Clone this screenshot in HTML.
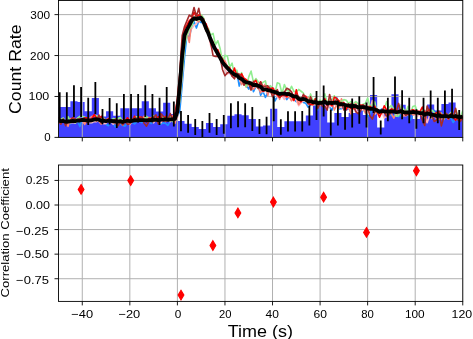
<!DOCTYPE html>
<html><head><meta charset="utf-8"><title>Light curve and correlation</title>
<style>html,body{margin:0;padding:0;background:#fff;}svg{display:block;}</style></head>
<body>
<svg width="473" height="339" viewBox="0 0 473 339">
<defs><clipPath id="c1"><rect x="58.5" y="0.45" width="404.3" height="136.95"/></clipPath>
<clipPath id="c2"><rect x="58.5" y="165" width="404.3" height="136.4"/></clipPath></defs>
<rect width="473" height="339" fill="#fff"/>
<g clip-path="url(#c1)">
<path d="M58.5 137.4L58.5 106.9L63.25 106.9L63.25 106.9L70.39 106.9L70.39 101.2L77.52 101.2L77.52 102L84.66 102L84.66 111.3L91.79 111.3L91.79 98L98.92 98L98.92 116.6L106.06 116.6L106.06 111.3L113.19 111.3L113.19 115.7L120.33 115.7L120.33 108.3L127.46 108.3L127.46 108.3L134.59 108.3L134.59 108.3L141.73 108.3L141.73 101.2L148.86 101.2L148.86 108.3L156 108.3L156 111.4L163.13 111.4L163.13 102.7L170.26 102.7L170.26 114L177.4 114L177.4 121.1L184.53 121.1L184.53 123.8L191.67 123.8L191.67 126.9L198.8 126.9L198.8 128.9L205.93 128.9L205.93 122.9L213.07 122.9L213.07 126.9L220.2 126.9L220.2 124.3L227.34 124.3L227.34 115.8L234.47 115.8L234.47 114.2L241.6 114.2L241.6 115.2L248.74 115.2L248.74 119L255.87 119L255.87 126.5L263.01 126.5L263.01 125.5L270.14 125.5L270.14 108.7L277.27 108.7L277.27 127L284.41 127L284.41 121.3L291.54 121.3L291.54 121.3L298.68 121.3L298.68 121.3L305.81 121.3L305.81 115.5L312.94 115.5L312.94 105.5L320.08 105.5L320.08 101L327.21 101L327.21 122.5L334.35 122.5L334.35 113L341.48 113L341.48 117L348.61 117L348.61 113L355.75 113L355.75 110L362.88 110L362.88 115L370.02 115L370.02 95L377.15 95L377.15 127.5L384.28 127.5L384.28 109.5L391.42 109.5L391.42 94.2L398.55 94.2L398.55 104.7L405.69 104.7L405.69 110.5L412.82 110.5L412.82 119L419.95 119L419.95 110.5L427.09 110.5L427.09 104.5L434.22 104.5L434.22 110.5L441.36 110.5L441.36 104L448.49 104L448.49 102.5L455.62 102.5L455.62 120L462.76 120L462.8 137.4Z" fill="#4040ff"/>
<path d="M82.28 0.45V137.4M129.84 0.45V137.4M177.4 0.45V137.4M224.96 0.45V137.4M272.52 0.45V137.4M320.08 0.45V137.4M367.64 0.45V137.4M415.2 0.45V137.4M462.76 0.45V137.4M58.5 96.47H462.8M58.5 55.54H462.8M58.5 14.61H462.8" stroke="#b0b0b0" stroke-width="1" fill="none"/>
<polyline points="58.5,122.12 60.88,119.33 63.26,119.83 65.63,123.88 68.01,123.43 70.39,123.95 72.77,121.48 75.15,122.86 77.52,120.9 79.9,126.55 82.28,118.57 84.66,121.99 87.04,120.16 89.41,122.11 91.79,122.78 94.17,120.81 96.55,119.61 98.93,121.66 101.3,121.85 103.68,120.57 106.06,124.27 108.44,125.72 110.82,121.43 113.19,123.88 115.57,126.92 117.95,124.59 120.33,123.81 122.71,125.45 125.08,126.11 127.46,122.46 129.84,120.25 132.22,122.73 134.6,123.88 136.97,121.34 139.35,120.57 141.73,122.76 144.11,120.74 146.49,119.5 148.86,122.17 151.24,123.48 153.62,120.86 156,121.09 158.38,119.17 160.75,124.43 163.13,122.9 165.51,123.27 167.89,125.29 170.27,121.1 172.64,120.15 175.02,122.8 177.4,116.47 179.78,111.07 182.16,84.86 184.53,57.17 186.91,35.31 189.29,36.9 191.67,26.75 194.05,21.52 196.42,28.07 198.8,20.94 201.18,22.69 203.56,19.64 205.94,28.81 208.31,33.37 210.69,37.92 213.07,48.2 215.45,48.7 217.83,55.79 220.2,58.12 222.58,66.02 224.96,63.16 227.34,67.92 229.72,73.41 232.09,72.63 234.47,72.4 236.85,72.44 239.23,86.12 241.61,78.75 243.98,81.74 246.36,85.11 248.74,89.2 251.12,81.92 253.5,91.78 255.87,86.32 258.25,84.61 260.63,95.37 263.01,91.42 265.39,97.49 267.76,92.43 270.14,88.24 272.52,87.71 274.9,101.05 277.28,96.63 279.65,93.72 282.03,91.52 284.41,95.51 286.79,99.58 289.17,96.24 291.54,97.76 293.92,99.07 296.3,101.69 298.68,98.96 301.06,100.49 303.43,102.5 305.81,103.34 308.19,107.23 310.57,105.17 312.95,100.26 315.32,105.48 317.7,109.94 320.08,101.01 322.46,103.72 324.84,98.6 327.21,105.25 329.59,106.97 331.97,110.22 334.35,101.42 336.73,97.73 339.1,108.92 341.48,108.8 343.86,105.2 346.24,109.99 348.62,108.48 350.99,108.98 353.37,107.55 355.75,105.01 358.13,108.67 360.51,106.26 362.88,110.8 365.26,108.8 367.64,116.64 370.02,114.85 372.4,108.37 374.77,113.03 377.15,109.94 379.53,110.56 381.91,108.83 384.29,110.92 386.66,110.52 389.04,114.06 391.42,115.82 393.8,115.84 396.18,115.02 398.55,116.91 400.93,115.24 403.31,114.01 405.69,113.11 408.07,115.03 410.44,119.88 412.82,114.49 415.2,113.75 417.58,111.4 419.96,113.15 422.33,117.01 424.71,117.51 427.09,109.76 429.47,113.77 431.85,110.96 434.22,110.42 436.6,119.37 438.98,116.14 441.36,116.19 443.74,116.12 446.11,116.33 448.49,117.44 450.87,117.62 453.25,122.53 455.63,118.73 458,120.43 460.38,117.94 462.76,119.66" stroke="#1e90ff" stroke-width="1.6" fill="none" stroke-linejoin="round"/>
<polyline points="58.5,120.37 60.88,120.18 63.26,121.4 65.63,121.48 68.01,121.93 70.39,123.03 72.77,122.45 75.15,123.02 77.52,121.04 79.9,121.57 82.28,120.06 84.66,123.69 87.04,119.25 89.41,122.74 91.79,122.75 94.17,121.38 96.55,121.73 98.93,119.97 101.3,122.3 103.68,123.8 106.06,123.37 108.44,118.99 110.82,121.56 113.19,124.19 115.57,122.04 117.95,125.27 120.33,118.49 122.71,125.21 125.08,121.06 127.46,120.63 129.84,124.48 132.22,120.93 134.6,119.52 136.97,120.59 139.35,120.94 141.73,119.42 144.11,120.9 146.49,120.4 148.86,121.23 151.24,119.67 153.62,122.86 156,119.35 158.38,121.93 160.75,122.98 163.13,119.94 165.51,117.25 167.89,118.73 170.27,121.72 172.64,119.13 175.02,121.16 177.4,117.67 179.78,99.94 182.16,76.87 184.53,43.52 186.91,36.34 189.29,31.73 191.67,28.67 194.05,25.58 196.42,23.79 198.8,18.33 201.18,15.09 203.56,22.32 205.94,24.36 208.31,34.67 210.69,45.67 213.07,44.63 215.45,49.04 217.83,56.42 220.2,58.78 222.58,61.5 224.96,69.18 227.34,74.22 229.72,72.55 232.09,74.62 234.47,77.15 236.85,74.67 239.23,73.83 241.61,82.2 243.98,80.19 246.36,80.55 248.74,82.04 251.12,81.85 253.5,87.46 255.87,84.87 258.25,81.55 260.63,85.92 263.01,91.98 265.39,89.92 267.76,87.92 270.14,91.58 272.52,95.35 274.9,88.56 277.28,97.48 279.65,94.12 282.03,95.77 284.41,99.44 286.79,92.2 289.17,95.21 291.54,100.48 293.92,95.86 296.3,99.97 298.68,105.75 301.06,103.04 303.43,100.72 305.81,99.99 308.19,101.87 310.57,102.99 312.95,102.39 315.32,104.96 317.7,101.1 320.08,104.3 322.46,103.9 324.84,103.18 327.21,107.85 329.59,106.88 331.97,100.48 334.35,104.15 336.73,106.26 339.1,104.86 341.48,107.65 343.86,105.79 346.24,108.74 348.62,106.33 350.99,111.84 353.37,103.91 355.75,109.39 358.13,112.72 360.51,109.32 362.88,110.09 365.26,108.92 367.64,112.81 370.02,108.92 372.4,100.46 374.77,114.41 377.15,110.48 379.53,112.83 381.91,112.11 384.29,117.93 386.66,116.3 389.04,111.97 391.42,113.27 393.8,108.64 396.18,114.91 398.55,112.56 400.93,105.29 403.31,115.34 405.69,115.86 408.07,113.68 410.44,113.83 412.82,111.58 415.2,113.67 417.58,116.26 419.96,113.93 422.33,107.75 424.71,111.68 427.09,122.73 429.47,116.07 431.85,118.34 434.22,114.73 436.6,117.14 438.98,111.89 441.36,114.77 443.74,115.08 446.11,117.06 448.49,117.76 450.87,116.85 453.25,114.44 455.63,116.47 458,118.79 460.38,114.6 462.76,117.41" stroke="#ffb6c1" stroke-width="1.6" fill="none" stroke-linejoin="round"/>
<polyline points="58.5,120.31 60.88,121.99 63.26,121.73 65.63,121.96 68.01,126.33 70.39,118.61 72.77,119.52 75.15,120.98 77.52,118.21 79.9,119.18 82.28,118.92 84.66,124.45 87.04,119.99 89.41,118.59 91.79,116.46 94.17,115.65 96.55,116.07 98.93,121.36 101.3,124.12 103.68,119 106.06,120.1 108.44,118.21 110.82,120.42 113.19,119.93 115.57,123.66 117.95,119.76 120.33,121.57 122.71,119.96 125.08,119.61 127.46,120.46 129.84,119.39 132.22,120.06 134.6,118.49 136.97,119.01 139.35,121.06 141.73,121 144.11,116.15 146.49,119.73 148.86,117.4 151.24,118.6 153.62,120.54 156,120.91 158.38,119.09 160.75,118.66 163.13,117.85 165.51,121.66 167.89,120.3 170.27,119.27 172.64,115.68 175.02,123.3 177.4,114.61 179.78,96.99 182.16,66.69 184.53,42.48 186.91,31.95 189.29,42.41 191.67,22.51 194.05,18.65 196.42,18.66 198.8,21.95 201.18,17.4 203.56,22.02 205.94,29.73 208.31,32.85 210.69,38.95 213.07,41.44 215.45,49.3 217.83,55.51 220.2,53.83 222.58,58.9 224.96,61.06 227.34,66.3 229.72,71.04 232.09,74.19 234.47,75.83 236.85,73.73 239.23,77.97 241.61,84.62 243.98,81.55 246.36,87.06 248.74,82.77 251.12,88.05 253.5,89.29 255.87,85.89 258.25,87.24 260.63,92.76 263.01,87 265.39,84.08 267.76,95.6 270.14,86.24 272.52,94.82 274.9,93.97 277.28,93.44 279.65,99.3 282.03,90.83 284.41,93.38 286.79,97.41 289.17,96.31 291.54,100.77 293.92,98 296.3,95.11 298.68,104.53 301.06,101.57 303.43,100.36 305.81,98.03 308.19,97.65 310.57,103.83 312.95,105.34 315.32,102.33 317.7,104.97 320.08,104.96 322.46,100.89 324.84,99.12 327.21,103.29 329.59,104.69 331.97,102.57 334.35,109.92 336.73,104.85 339.1,108.26 341.48,98.8 343.86,103.9 346.24,105.83 348.62,107.05 350.99,113.88 353.37,105.04 355.75,102.78 358.13,109.75 360.51,106.22 362.88,106.48 365.26,113.06 367.64,106.5 370.02,105.74 372.4,109.28 374.77,110.56 377.15,108.74 379.53,115.73 381.91,111.91 384.29,109.6 386.66,116.05 389.04,110.01 391.42,113.78 393.8,118.19 396.18,112.76 398.55,115.15 400.93,111.79 403.31,115.94 405.69,110.11 408.07,115.07 410.44,112.27 412.82,114.94 415.2,114.4 417.58,110.6 419.96,113.46 422.33,115.36 424.71,117.92 427.09,111.85 429.47,113.33 431.85,116.47 434.22,115.31 436.6,118.98 438.98,119.22 441.36,118.97 443.74,116.07 446.11,116.37 448.49,119.19 450.87,115.41 453.25,115.36 455.63,116.99 458,114.78 460.38,118.22 462.76,117.79" stroke="#fa8072" stroke-width="1.6" fill="none" stroke-linejoin="round"/>
<polyline points="58.5,118.23 60.88,119.62 63.26,117.97 65.63,122.68 68.01,116.66 70.39,121.63 72.77,120.24 75.15,122.86 77.52,118.18 79.9,116.4 82.28,116.45 84.66,116.71 87.04,122.14 89.41,120.57 91.79,119.92 94.17,120.67 96.55,115.58 98.93,117.66 101.3,118.79 103.68,118.21 106.06,121.47 108.44,121.38 110.82,121.32 113.19,118.41 115.57,119.03 117.95,118.57 120.33,117.44 122.71,122.92 125.08,121.02 127.46,119.09 129.84,122.24 132.22,120.4 134.6,116.91 136.97,116.71 139.35,116.7 141.73,118.88 144.11,119.32 146.49,116.25 148.86,119.39 151.24,117.77 153.62,115.55 156,119.36 158.38,119.85 160.75,118.34 163.13,116.87 165.51,117.13 167.89,117.87 170.27,116.96 172.64,121.66 175.02,119.64 177.4,115 179.78,100.47 182.16,74.18 184.53,46.52 186.91,35.26 189.29,29.26 191.67,26.57 194.05,19.23 196.42,14.15 198.8,20.18 201.18,14.68 203.56,18.05 205.94,27.23 208.31,28.33 210.69,35.18 213.07,33.37 215.45,44.76 217.83,40.75 220.2,48.77 222.58,62.23 224.96,55.38 227.34,56.01 229.72,67.17 232.09,63.12 234.47,75.44 236.85,70.13 239.23,78.69 241.61,72.66 243.98,82.51 246.36,86.77 248.74,76.84 251.12,71.1 253.5,82.46 255.87,78.54 258.25,81.92 260.63,83.99 263.01,82.43 265.39,80.87 267.76,90.99 270.14,85.66 272.52,87.36 274.9,93.15 277.28,82.74 279.65,83.84 282.03,93.76 284.41,84.46 286.79,90.32 289.17,91.33 291.54,86.28 293.92,91.39 296.3,92.07 298.68,89.46 301.06,91.26 303.43,93.13 305.81,101.12 308.19,102.12 310.57,93.94 312.95,101.42 315.32,98.41 317.7,102.62 320.08,99.78 322.46,103.38 324.84,93.9 327.21,102.51 329.59,99.66 331.97,99.99 334.35,95.75 336.73,104.56 339.1,100.58 341.48,101.64 343.86,99.65 346.24,100.16 348.62,103.42 350.99,101.51 353.37,103.77 355.75,101.48 358.13,103.66 360.51,105.85 362.88,104.32 365.26,103.45 367.64,97.96 370.02,106.86 372.4,104.91 374.77,101.92 377.15,113.32 379.53,112.96 381.91,112.03 384.29,109.17 386.66,101.65 389.04,107.93 391.42,105.39 393.8,109.6 396.18,116.26 398.55,115.83 400.93,105.97 403.31,108.62 405.69,113.23 408.07,106.2 410.44,114.26 412.82,106.46 415.2,105.72 417.58,112.56 419.96,113.87 422.33,108.42 424.71,114.47 427.09,109.07 429.47,115.51 431.85,110.03 434.22,112.51 436.6,114.43 438.98,116.1 441.36,113.08 443.74,119.5 446.11,114.97 448.49,115.45 450.87,112.43 453.25,118.09 455.63,109.59 458,115.45 460.38,117.84 462.76,110.62" stroke="#90ee90" stroke-width="1.6" fill="none" stroke-linejoin="round"/>
<polyline points="58.5,117.17 60.88,120.71 63.26,122.1 65.63,120.48 68.01,121.75 70.39,121.07 72.77,117.62 75.15,119.52 77.52,119.72 79.9,118.98 82.28,119.4 84.66,117.79 87.04,117.88 89.41,120.23 91.79,119.13 94.17,114.52 96.55,117.98 98.93,119.65 101.3,116.24 103.68,119.98 106.06,121.97 108.44,118.78 110.82,121.76 113.19,121.31 115.57,119.92 117.95,120.74 120.33,121.89 122.71,121.44 125.08,121.2 127.46,117.78 129.84,121.16 132.22,120.9 134.6,116.19 136.97,120.81 139.35,117 141.73,117.18 144.11,119.67 146.49,121.81 148.86,118.41 151.24,118.01 153.62,117.48 156,119.06 158.38,116.88 160.75,116.42 163.13,120.82 165.51,116.35 167.89,118.6 170.27,119.82 172.64,119.08 175.02,112.87 177.4,99.9 179.78,75.57 182.16,41.9 184.53,28.91 186.91,24.86 189.29,20.54 191.67,18.54 194.05,12.22 196.42,16.85 198.8,14.86 201.18,16.51 203.56,22.16 205.94,23.63 208.31,30.2 210.69,39.03 213.07,45.35 215.45,48.78 217.83,49.74 220.2,56.34 222.58,59.25 224.96,64.24 227.34,66.75 229.72,67.68 232.09,75.88 234.47,67.99 236.85,76.58 239.23,77.53 241.61,73.78 243.98,78.3 246.36,79.66 248.74,82.34 251.12,86.21 253.5,82.36 255.87,80.38 258.25,86.83 260.63,81.75 263.01,91.19 265.39,90.14 267.76,87.38 270.14,89.93 272.52,87.79 274.9,91.7 277.28,94.9 279.65,97.34 282.03,95.54 284.41,95.35 286.79,96.62 289.17,92.52 291.54,95.98 293.92,100.58 296.3,89.86 298.68,99.99 301.06,101.75 303.43,95.48 305.81,96.16 308.19,103.13 310.57,104.71 312.95,104.07 315.32,98.75 317.7,102.73 320.08,104.1 322.46,102.06 324.84,98.85 327.21,105.63 329.59,103.12 331.97,105.89 334.35,97.09 336.73,98.42 339.1,101.13 341.48,104.25 343.86,102.53 346.24,109.81 348.62,104.08 350.99,108.44 353.37,108.71 355.75,107.51 358.13,107.06 360.51,105.17 362.88,105.18 365.26,106.58 367.64,109.94 370.02,106.42 372.4,108.86 374.77,106.22 377.15,111.94 379.53,117.16 381.91,112.03 384.29,105.85 386.66,110.03 389.04,111.58 391.42,108.89 393.8,109.72 396.18,109.83 398.55,112.3 400.93,111.02 403.31,110.88 405.69,113.07 408.07,114.35 410.44,111.48 412.82,109.69 415.2,110.69 417.58,111.33 419.96,111.6 422.33,107 424.71,112.82 427.09,111.34 429.47,109.56 431.85,114.4 434.22,114.26 436.6,112.74 438.98,111.52 441.36,114.95 443.74,114.99 446.11,115.75 448.49,118.85 450.87,113.54 453.25,116.77 455.63,120.17 458,116.57 460.38,120.21 462.76,118.56" stroke="#ff0000" stroke-width="1.6" fill="none" stroke-linejoin="round"/>
<polyline points="58.5,121.45 60.88,124.17 63.26,118.89 65.63,125.75 68.01,121.07 70.39,120.27 72.77,117.73 75.15,118.99 77.52,120.62 79.9,120.66 82.28,120.79 84.66,117.6 87.04,122.6 89.41,119.49 91.79,120.86 94.17,119.55 96.55,120.89 98.93,115 101.3,123.05 103.68,120.61 106.06,120.55 108.44,119.65 110.82,120.25 113.19,120.56 115.57,119.11 117.95,125.83 120.33,121.74 122.71,125 125.08,120.74 127.46,124.37 129.84,123.76 132.22,121.33 134.6,117.4 136.97,119.54 139.35,120.17 141.73,117.06 144.11,123.26 146.49,126.24 148.86,121.72 151.24,121.32 153.62,117.23 156,114.75 158.38,123.98 160.75,113.6 163.13,116.07 165.51,118.03 167.89,119.29 170.27,113.6 172.64,119.62 175.02,118.44 177.4,98.68 179.78,72.45 182.16,35.76 184.53,26.52 186.91,20.91 189.29,15.08 191.67,16.8 194.05,7.5 196.42,16.53 198.8,8.29 201.18,20.22 203.56,18.63 205.94,30.59 208.31,33.19 210.69,42.82 213.07,55.66 215.45,56.41 217.83,56.17 220.2,57.49 222.58,69.74 224.96,75.76 227.34,72.82 229.72,72.14 232.09,76.12 234.47,78.81 236.85,73.24 239.23,74.29 241.61,76.89 243.98,85.27 246.36,81.72 248.74,83.78 251.12,90.1 253.5,81.31 255.87,85.47 258.25,88.41 260.63,82 263.01,86.66 265.39,86.33 267.76,85.78 270.14,88.69 272.52,96.71 274.9,93.22 277.28,89.58 279.65,96.92 282.03,93.59 284.41,92.25 286.79,88.28 289.17,89.5 291.54,91.92 293.92,97.32 296.3,94.21 298.68,96.77 301.06,100.1 303.43,94.36 305.81,98.29 308.19,104.05 310.57,96.67 312.95,103.26 315.32,100.13 317.7,108.61 320.08,102.71 322.46,106.34 324.84,106.43 327.21,110.12 329.59,94.48 331.97,103.59 334.35,102.45 336.73,99.53 339.1,104.71 341.48,102.61 343.86,110.04 346.24,104.4 348.62,106.99 350.99,103.83 353.37,105.36 355.75,111.59 358.13,113.75 360.51,110.99 362.88,104.79 365.26,106.27 367.64,106.75 370.02,116.11 372.4,119.05 374.77,112 377.15,111.55 379.53,113.23 381.91,110.11 384.29,112.22 386.66,115.97 389.04,114.79 391.42,110.99 393.8,111.16 396.18,111.73 398.55,103.42 400.93,112.67 403.31,111.46 405.69,115.62 408.07,113.47 410.44,110.45 412.82,110.49 415.2,113.32 417.58,111.62 419.96,113.12 422.33,120.28 424.71,125.53 427.09,106.15 429.47,111.74 431.85,115.22 434.22,121.47 436.6,120.13 438.98,111.18 441.36,125.87 443.74,117.41 446.11,113.37 448.49,115.99 450.87,113.94 453.25,117.06 455.63,108.36 458,120.2 460.38,121.36 462.76,115.73" stroke="#a52a2a" stroke-width="1.6" fill="none" stroke-linejoin="round"/>
<path d="M59.69 92.3V121.5M66.82 92.3V121.5M73.95 85.3V117.1M81.09 87V117M88.22 97.7V124.9M95.36 82V114M102.49 109V124.2M109.62 98V124.6M116.76 103.3V128.1M123.89 94.1V122.5M131.03 94.1V122.5M138.16 94.1V122.5M145.3 85.3V117.1M152.43 94.1V122.5M159.56 97.7V125.1M166.7 87.1V118.3M173.83 101.6V126.4M180.97 111V131.2M188.1 114.9V132.7M195.23 118.9V134.9M202.37 120.9V136.9M209.5 113V132.8M216.64 118.9V134.9M223.77 114.9V133.7M230.9 103.3V128.3M238.04 101.2V127.2M245.17 103.2V127.2M252.31 107V131M259.44 119.1V133.9M266.57 116.7V134.3M273.71 96.2V121.2M280.84 119.2V134.8M287.98 111.2V131.4M295.11 111.2V131.4M302.24 111V131.6M309.38 105.5V125.5M316.51 91V120M323.65 85.5V116.5M330.78 109.5V135.5M337.91 100.4V125.6M345.05 104.2V129.8M352.18 98.5V127.5M359.31 96.3V123.7M366.45 102.5V127.5M373.58 77V113M380.72 120.5V134.5M387.85 97.7V121.3M394.99 76.5V111.9M402.12 90.2V119.2M409.25 97.8V123.2M416.39 109.2V128.8M423.52 97.8V123.2M430.66 90.6V118.4M437.79 97.8V123.2M444.92 90.6V117.4M452.06 88.7V116.3M459.19 110V130" stroke="#000" stroke-width="1.8" fill="none"/>
<polyline points="58.5,120.6 60.88,121.11 63.26,120.97 65.63,121.81 68.01,121.52 70.39,121.36 72.77,120.79 75.15,121.2 77.52,120.51 79.9,120.56 82.28,119.78 84.66,120.22 87.04,120.31 89.41,120.5 91.79,120.32 94.17,119.47 96.55,119.24 98.93,119.72 101.3,120.84 103.68,120.69 106.06,121.23 108.44,120.7 110.82,120.98 113.19,121.25 115.57,121.51 117.95,121.73 120.33,121.15 122.71,122.03 125.08,121.26 127.46,120.76 129.84,121.12 132.22,120.83 134.6,120.02 136.97,120.33 139.35,120.16 141.73,120.07 144.11,120.2 146.49,120.33 148.86,120.08 151.24,120 153.62,119.75 156,119.75 158.38,120.04 160.75,119.56 163.13,119.55 165.51,119.51 167.89,119.89 170.27,119.4 172.64,119.41 175.02,118.89 177.4,111.51 179.78,85.52 182.16,56.15 184.53,35.28 186.91,29.66 189.29,25.44 191.67,20.65 194.05,18.23 196.42,19.05 198.8,18.03 201.18,17.94 203.56,22.04 205.94,28.18 208.31,33.32 210.69,39.58 213.07,44.94 215.45,49.64 217.83,53.82 220.2,57.86 222.58,62.38 224.96,65.16 227.34,67.88 229.72,70.49 232.09,72.63 234.47,74.62 236.85,75.33 239.23,77.9 241.61,79 243.98,81.16 246.36,82.36 248.74,82.63 251.12,83.45 253.5,85.06 255.87,84.9 258.25,85.77 260.63,86.8 263.01,89.46 265.39,89.29 267.76,90.08 270.14,90.54 272.52,91.6 274.9,92.04 277.28,92.94 279.65,93.93 282.03,93.62 284.41,93.62 286.79,94.01 289.17,94.13 291.54,95.31 293.92,96.41 296.3,96.62 298.68,98.84 301.06,99.39 303.43,98.95 305.81,99.78 308.19,101.34 310.57,101.3 312.95,102.27 315.32,102.09 317.7,103.34 320.08,102.61 322.46,102.8 324.84,101.62 327.21,103.65 329.59,102.61 331.97,103.11 334.35,102.63 336.73,102.91 339.1,104.23 341.48,104.2 343.86,104.58 346.24,105.46 348.62,105.49 350.99,106.39 353.37,105.76 355.75,106.18 358.13,107.49 360.51,107.09 362.88,107.17 365.26,107.67 367.64,108.12 370.02,108.89 372.4,108.73 374.77,109.49 377.15,110.31 379.53,111.75 381.91,111.22 384.29,111.26 386.66,111.62 389.04,111.59 391.42,111.4 393.8,111.62 396.18,112.04 398.55,111.86 400.93,111.12 403.31,112.05 405.69,112.44 408.07,112.35 410.44,112.69 412.82,111.94 415.2,112.32 417.58,112.62 419.96,113.12 422.33,113.12 424.71,114.73 427.09,113.27 429.47,114.04 431.85,114.58 434.22,115.01 436.6,116.03 438.98,115.23 441.36,116.43 443.74,116.26 446.11,116.04 448.49,116.73 450.87,115.91 453.25,116.79 455.63,116 458,116.94 460.38,117.18 462.76,116.58" stroke="#000" stroke-width="3.8" fill="none" stroke-linejoin="round"/>
</g>
<rect x="58.5" y="0.45" width="404.3" height="136.95" fill="none" stroke="#000" stroke-width="0.9"/>
<g clip-path="url(#c2)">
<path d="M82.28 165V301.4M129.84 165V301.4M177.4 165V301.4M224.96 165V301.4M272.52 165V301.4M320.08 165V301.4M367.64 165V301.4M415.2 165V301.4M462.76 165V301.4M58.5 180.43H462.8M58.5 205H462.8M58.5 229.57H462.8M58.5 254.15H462.8M58.5 278.73H462.8" stroke="#b0b0b0" stroke-width="1" fill="none"/>
</g>
<path d="M81.1 184.57L84 189.4L81.1 194.23L78.2 189.4ZM130.7 175.77L133.6 180.6L130.7 185.43L127.8 180.6ZM181 290.27L183.9 295.1L181 299.93L178.1 295.1ZM212.9 240.67L215.8 245.5L212.9 250.33L210 245.5ZM237.9 208.07L240.8 212.9L237.9 217.73L235 212.9ZM273.4 197.17L276.3 202L273.4 206.83L270.5 202ZM323.6 192.37L326.5 197.2L323.6 202.03L320.7 197.2ZM366.5 227.57L369.4 232.4L366.5 237.23L363.6 232.4ZM416.4 165.97L419.3 170.8L416.4 175.63L413.5 170.8Z" fill="#ff0000" stroke="#ff0000" stroke-width="1.1" stroke-linejoin="miter"/>
<rect x="58.5" y="165.0" width="404.3" height="136.4" fill="none" stroke="#000" stroke-width="0.9"/>
<path d="M82.28 137.4v4M129.84 137.4v4M177.4 137.4v4M224.96 137.4v4M272.52 137.4v4M320.08 137.4v4M367.64 137.4v4M415.2 137.4v4M462.76 137.4v4M58.5 137.4h-4M58.5 96.47h-4M58.5 55.54h-4M58.5 14.61h-4M82.28 301.4v4M129.84 301.4v4M177.4 301.4v4M224.96 301.4v4M272.52 301.4v4M320.08 301.4v4M367.64 301.4v4M415.2 301.4v4M462.76 301.4v4M58.5 180.43h-4M58.5 205h-4M58.5 229.57h-4M58.5 254.15h-4M58.5 278.73h-4" stroke="#000" stroke-width="0.9" fill="none"/>
<g font-family="&quot;Liberation Sans&quot;, sans-serif" fill="#000" style="will-change:transform"><text x="82.21" y="317.81" font-size="11.6" text-anchor="middle" textLength="21.85" lengthAdjust="spacingAndGlyphs">−40</text><text x="129.3" y="318.33" font-size="11.6" text-anchor="middle" textLength="21.85" lengthAdjust="spacingAndGlyphs">−20</text><text x="178.17" y="317.98" font-size="11.6" text-anchor="middle" textLength="6.57" lengthAdjust="spacingAndGlyphs">0</text><text x="225.32" y="318.27" font-size="11.6" text-anchor="middle" textLength="12.49" lengthAdjust="spacingAndGlyphs">20</text><text x="272.27" y="317.66" font-size="11.6" text-anchor="middle" textLength="13.35" lengthAdjust="spacingAndGlyphs">40</text><text x="320.32" y="318.12" font-size="11.6" text-anchor="middle" textLength="13.46" lengthAdjust="spacingAndGlyphs">60</text><text x="367.48" y="317.77" font-size="11.6" text-anchor="middle" textLength="12.6" lengthAdjust="spacingAndGlyphs">80</text><text x="414.8" y="317.87" font-size="11.6" text-anchor="middle" textLength="19.73" lengthAdjust="spacingAndGlyphs">100</text><text x="461.9" y="318.07" font-size="11.6" text-anchor="middle" textLength="20.66" lengthAdjust="spacingAndGlyphs">120</text><text x="47.41" y="141" font-size="11.6" text-anchor="middle" textLength="6.39" lengthAdjust="spacingAndGlyphs">0</text><text x="38.9" y="99.97" font-size="11.6" text-anchor="middle" textLength="20.78" lengthAdjust="spacingAndGlyphs">100</text><text x="39.93" y="60.34" font-size="11.6" text-anchor="middle" textLength="19.62" lengthAdjust="spacingAndGlyphs">200</text><text x="40.23" y="19.03" font-size="11.6" text-anchor="middle" textLength="19.68" lengthAdjust="spacingAndGlyphs">300</text><text x="37.49" y="184.45" font-size="11.6" text-anchor="middle" textLength="23.24" lengthAdjust="spacingAndGlyphs">0.25</text><text x="37.82" y="208.97" font-size="11.6" text-anchor="middle" textLength="24.41" lengthAdjust="spacingAndGlyphs">0.00</text><text x="32.28" y="234.7" font-size="11.6" text-anchor="middle" textLength="32.71" lengthAdjust="spacingAndGlyphs">−0.25</text><text x="32.67" y="258.09" font-size="11.6" text-anchor="middle" textLength="32.86" lengthAdjust="spacingAndGlyphs">−0.50</text><text x="32.51" y="283.65" font-size="11.6" text-anchor="middle" textLength="32.86" lengthAdjust="spacingAndGlyphs">−0.75</text><text transform="translate(20.9,69.19) rotate(-90)" font-size="16.2" text-anchor="middle" textLength="89.5" lengthAdjust="spacingAndGlyphs">Count Rate</text><text transform="translate(9,232.83) rotate(-90)" font-size="11.6" text-anchor="middle" textLength="129.27" lengthAdjust="spacingAndGlyphs">Correlation Coefficient</text><text x="260.42" y="337.36" font-size="16.2" text-anchor="middle" textLength="65.25" lengthAdjust="spacingAndGlyphs">Time (s)</text></g>
</svg>
</body></html>
